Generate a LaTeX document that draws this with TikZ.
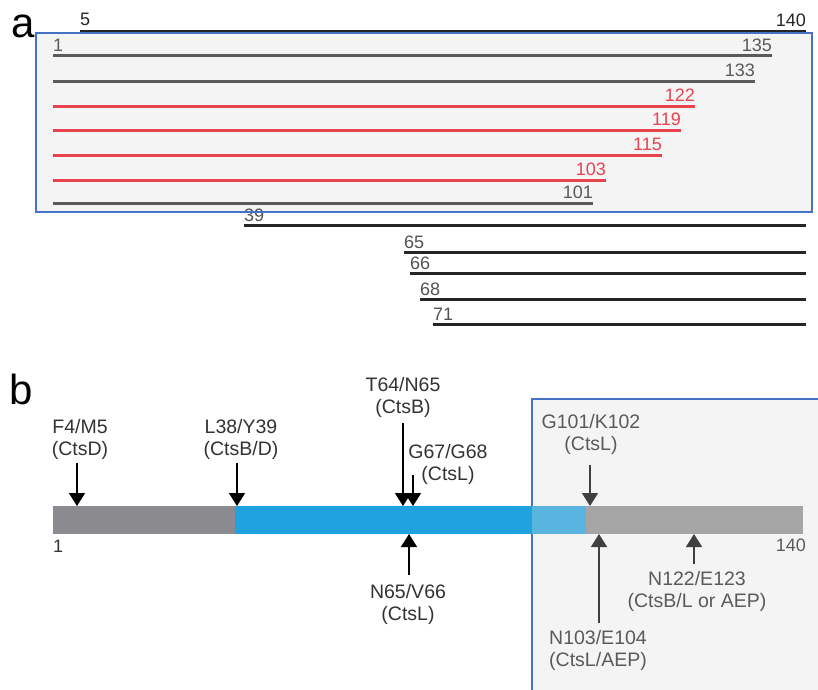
\documentclass[tikz,border=0pt]{standalone}
\usepackage{fontspec}
\setmainfont{Liberation Sans}
\usetikzlibrary{arrows.meta}
\definecolor{boxblue}{HTML}{4472C4}
\definecolor{boxfill}{HTML}{F4F4F4}
\definecolor{pepred}{HTML}{E8424F}
\definecolor{pepgray}{HTML}{5A5A5A}
\definecolor{pepblack}{HTML}{262626}
\definecolor{bardark}{HTML}{8B8B8F}
\definecolor{barblue}{HTML}{1FA2DD}
\definecolor{barlight}{HTML}{5AB4E0}
\definecolor{bargray}{HTML}{A5A5A5}
\definecolor{txtdark}{HTML}{333333}
\definecolor{txtin}{HTML}{5A5A5A}
\definecolor{arrin}{HTML}{404040}
\begin{document}
\begin{tikzpicture}[x=1pt,y=-1pt,
  panelletter/.style={inner sep=0pt,font=\fontsize{42}{42}\selectfont,text=black},
  numlab/.style={inner sep=0pt,font=\fontsize{18}{18}\selectfont},
  peptide/.style={line width=3pt},
  framebox/.style={draw=boxblue,line width=1.4pt},
  sitelab/.style={inner sep=0pt,align=center,font=\fontsize{19.5}{22.5}\selectfont},
  cutarrow/.style={line width=1.6pt,-{Triangle[width=16pt,length=13pt]}},
]
\useasboundingbox (0,0) rectangle (818,689);
\fill[white] (0,0) rectangle (818,689);

% ---------------- panel a ----------------
\node[panelletter,anchor=south west] (la) at (11,38) {a};
\fill[boxfill] (36,33) rectangle (812,212);

% full-length top peptide
\coordinate (p5s) at (80,31.7); \coordinate (p5e) at (806,31.7);
\draw[peptide,pepblack] (p5s) -- (p5e);
\node[numlab,text=pepblack,anchor=south west] (l5) at ([yshift=6pt]p5s) {5};
\node[numlab,text=pepblack,anchor=south east] (l140a) at ([yshift=5pt]p5e) {140};

% boxed peptides starting at 1
\foreach \nm/\yy/\xe/\cl in {135/55.7/772/pepgray,133/81/755/pepgray,122/106/695/pepred,119/130/681/pepred,115/155/662/pepred,103/180/606/pepred,101/203/593/pepgray}{
  \coordinate (s\nm) at (53,\yy);
  \coordinate (e\nm) at (\xe,\yy);
  \draw[peptide,\cl] (s\nm) -- (e\nm);
  \node[numlab,text=\cl,anchor=south east] (n\nm) at ([yshift=4pt]e\nm) {\nm};
}
\node[numlab,text=pepgray,anchor=south west] (l1a) at ([yshift=4pt]s135) {1};

% peptides ending at 140
\foreach \nm/\yy/\xs in {39/225/244,65/252/404,66/273/410,68/299/420,71/324/433}{
  \coordinate (s\nm) at (\xs,\yy);
  \coordinate (e\nm) at (806,\yy);
  \draw[peptide,pepblack] (s\nm) -- (e\nm);
  \node[numlab,text=txtdark!85!white,anchor=south west] (n\nm) at ([yshift=3.5pt]s\nm) {\nm};
}
\draw[framebox] (36,33) rectangle (812,212);

% ---------------- panel b ----------------
\node[panelletter,anchor=south west] (lb) at (9,405) {b};
\fill[boxfill] (532,399) rectangle (822,694);
\draw[framebox] (532,399) rectangle (822,694);

% bar
\fill[bardark] (53,506) rectangle (235,534);
\fill[barblue] (235,506) rectangle (532,534);
\fill[barlight] (532,506) rectangle (586,534);
\fill[bargray] (586,506) rectangle (803,534);
\node[numlab,text=txtdark,anchor=north west] (b1) at (53,540) {1};
\node[numlab,text=txtin,anchor=north east] (b140) at (806,539) {140};

% cleavage sites above
\node[sitelab,text=txtdark,anchor=north] (tF4) at (80,419) {F4/M5\\(CtsD)};
\node[sitelab,text=txtdark,anchor=north] (tL38) at (241,419) {L38/Y39\\(CtsB/D)};
\node[sitelab,text=txtdark,anchor=north] (tT64) at (403,377) {T64/N65\\(CtsB)};
\node[sitelab,text=txtdark,anchor=north] (tG67) at (448,444) {G67/G68\\(CtsL)};
\node[sitelab,text=txtin,anchor=north] (tG101) at (591,414) {G101/K102\\(CtsL)};

\coordinate (aF4s) at (77,463);   \coordinate (aF4e) at (77,506);
\coordinate (aL38s) at (237,463); \coordinate (aL38e) at (237,506);
\coordinate (aT64s) at (403,423); \coordinate (aT64e) at (403,506);
\coordinate (aG67s) at (413,475); \coordinate (aG67e) at (413,506);
\coordinate (aG101s) at (590,465); \coordinate (aG101e) at (590,506);
\draw[cutarrow,black] (aF4s) -- (aF4e);
\draw[cutarrow,black] (aL38s) -- (aL38e);
\draw[cutarrow,black] (aT64s) -- (aT64e);
\draw[cutarrow,black] (aG67s) -- (aG67e);
\draw[cutarrow,arrin] (aG101s) -- (aG101e);

% cleavage sites below
\node[sitelab,text=txtdark,anchor=north] (tN65) at (408,584) {N65/V66\\(CtsL)};
\node[sitelab,text=txtin,anchor=north] (tN103) at (598,630) {N103/E104\\(CtsL/AEP)};
\node[sitelab,text=txtin,anchor=north] (tN122) at (697,571) {N122/E123\\(CtsB/L or AEP)};

\coordinate (aN65s) at (409,575);  \coordinate (aN65e) at (409,534);
\coordinate (aN103s) at (599,623); \coordinate (aN103e) at (599,534);
\coordinate (aN122s) at (694,564); \coordinate (aN122e) at (694,534);
\draw[cutarrow,black] (aN65s) -- (aN65e);
\draw[cutarrow,arrin] (aN103s) -- (aN103e);
\draw[cutarrow,arrin] (aN122s) -- (aN122e);
\end{tikzpicture}
\end{document}
